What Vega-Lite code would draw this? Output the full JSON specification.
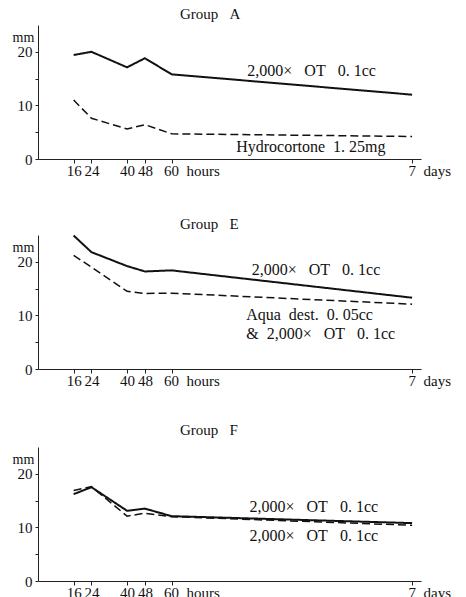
{
  "$schema": "https://vega.github.io/schema/vega-lite/v6.json",
  "background": "white",
  "padding": {"left": 12, "top": 7, "right": 0, "bottom": 0},
  "spacing": 38,
  "config": {
    "view": {"stroke": null},
    "font": "Liberation Serif",
    "axis": {"grid": false, "domainColor": "#222", "tickColor": "#222", "labelColor": "#111", "labelFont": "Liberation Serif", "labelFontSize": 15, "titleFont": "Liberation Serif", "titleFontWeight": "normal", "titleColor": "#111"},
    "title": {"font": "Liberation Serif", "fontSize": 15, "fontWeight": "normal", "anchor": "start", "frame": "group", "dx": 142, "color": "#111"}
  },
  "datasets": {
    "series": [
      {"panel": "A", "arm": "control", "hours": 16, "mm": 19.4},
      {"panel": "A", "arm": "control", "hours": 24, "mm": 20.0},
      {"panel": "A", "arm": "control", "hours": 40, "mm": 17.1},
      {"panel": "A", "arm": "control", "hours": 48, "mm": 18.8},
      {"panel": "A", "arm": "control", "hours": 60, "mm": 15.8},
      {"panel": "A", "arm": "control", "hours": 168, "mm": 12.0},
      {"panel": "A", "arm": "test", "hours": 16, "mm": 11.0},
      {"panel": "A", "arm": "test", "hours": 24, "mm": 7.6},
      {"panel": "A", "arm": "test", "hours": 40, "mm": 5.6},
      {"panel": "A", "arm": "test", "hours": 48, "mm": 6.4},
      {"panel": "A", "arm": "test", "hours": 60, "mm": 4.7},
      {"panel": "A", "arm": "test", "hours": 168, "mm": 4.2},
      {"panel": "E", "arm": "control", "hours": 16, "mm": 24.9},
      {"panel": "E", "arm": "control", "hours": 24, "mm": 21.8},
      {"panel": "E", "arm": "control", "hours": 40, "mm": 19.2},
      {"panel": "E", "arm": "control", "hours": 48, "mm": 18.2},
      {"panel": "E", "arm": "control", "hours": 60, "mm": 18.4},
      {"panel": "E", "arm": "control", "hours": 168, "mm": 13.3},
      {"panel": "E", "arm": "test", "hours": 16, "mm": 21.2},
      {"panel": "E", "arm": "test", "hours": 24, "mm": 19.0},
      {"panel": "E", "arm": "test", "hours": 40, "mm": 14.5},
      {"panel": "E", "arm": "test", "hours": 48, "mm": 14.1},
      {"panel": "E", "arm": "test", "hours": 60, "mm": 14.15},
      {"panel": "E", "arm": "test", "hours": 168, "mm": 12.1},
      {"panel": "F", "arm": "control", "hours": 16, "mm": 16.2},
      {"panel": "F", "arm": "control", "hours": 24, "mm": 17.5},
      {"panel": "F", "arm": "control", "hours": 40, "mm": 13.1},
      {"panel": "F", "arm": "control", "hours": 48, "mm": 13.5},
      {"panel": "F", "arm": "control", "hours": 60, "mm": 12.1},
      {"panel": "F", "arm": "control", "hours": 168, "mm": 10.8},
      {"panel": "F", "arm": "test", "hours": 16, "mm": 16.9},
      {"panel": "F", "arm": "test", "hours": 24, "mm": 17.6},
      {"panel": "F", "arm": "test", "hours": 40, "mm": 12.1},
      {"panel": "F", "arm": "test", "hours": 48, "mm": 12.65},
      {"panel": "F", "arm": "test", "hours": 60, "mm": 12.0},
      {"panel": "F", "arm": "test", "hours": 168, "mm": 10.4}
    ],
    "labels": [
      {"panel": "A", "hours": 94, "mm": 16.4, "text": "2,000×\u00a0\u00a0\u00a0OT\u00a0\u00a0\u00a00.\u00a01cc"},
      {"panel": "A", "hours": 89, "mm": 2.2, "text": "Hydrocortone\u00a0\u00a01.\u00a025mg"},
      {"panel": "E", "hours": 96, "mm": 18.5, "text": "2,000×\u00a0\u00a0\u00a0OT\u00a0\u00a0\u00a00.\u00a01cc"},
      {"panel": "E", "hours": 93.5, "mm": 10.0, "text": "Aqua\u00a0\u00a0dest.\u00a0\u00a00.\u00a005cc"},
      {"panel": "E", "hours": 93.5, "mm": 6.5, "text": "&\u00a0\u00a02,000×\u00a0\u00a0\u00a0OT\u00a0\u00a0\u00a00.\u00a01cc"},
      {"panel": "F", "hours": 95, "mm": 13.8, "text": "2,000×\u00a0\u00a0\u00a0OT\u00a0\u00a0\u00a00.\u00a01cc"},
      {"panel": "F", "hours": 95, "mm": 8.4, "text": "2,000×\u00a0\u00a0\u00a0OT\u00a0\u00a0\u00a00.\u00a01cc"}
    ]
  },
  "vconcat": [
    {
      "title": {"text": "Group\u00a0\u00a0\u00a0A", "offset": 3},
      "width": 383, "height": 134,
      "encoding": {
        "x": {"field": "hours", "type": "quantitative", "scale": {"domain": [0, 172], "nice": false}, "axis": {"title": null, "values": [16, 24, 40, 48, 60, 168], "labelExpr": "datum.value == 168 ? '7\u00a0\u00a0days' : datum.value == 60 ? '60\u00a0\u00a0hours' : datum.label", "labelAlign": {"condition": {"test": "datum.value >= 60", "value": "left"}, "value": "center"}, "labelOffset": {"condition": [{"test": "datum.value == 60", "value": -8}, {"test": "datum.value == 168", "value": -4}], "value": 0}, "labelOverlap": false, "labelFlush": false, "labelBound": false, "tickSize": 4, "labelPadding": 0}},
        "y": {"field": "mm", "type": "quantitative", "scale": {"domain": [0, 25], "nice": false}, "axis": {"title": "mm", "titleAngle": 0, "titleAlign": "left", "titleBaseline": "middle", "titleX": -26, "titleY": 12, "titleFontSize": 14, "values": [0, 5, 10, 15, 20], "labelExpr": "datum.value % 10 == 0 ? datum.label : ''", "tickSize": 3, "labelPadding": 3, "labelFontSize": 15}}
      },
      "layer": [
        {
          "data": {"name": "series"},
          "transform": [{"filter": "datum.panel == 'A'"}],
          "mark": {"type": "line", "color": "#111"},
          "encoding": {
            "strokeDash": {"field": "arm", "type": "nominal", "scale": {"domain": ["control", "test"], "range": [[1, 0], [8, 4]]}, "legend": null},
            "strokeWidth": {"field": "arm", "type": "nominal", "scale": {"domain": ["control", "test"], "range": [2, 1.5]}, "legend": null}
          }
        },
        {
          "data": {"name": "labels"},
          "transform": [{"filter": "datum.panel == 'A'"}],
          "mark": {"type": "text", "align": "left", "baseline": "middle", "fontSize": 16, "color": "#111", "font": "Liberation Serif"},
          "encoding": {"text": {"field": "text"}}
        }
      ]
    },
    {
      "spacing": 35,
      "vconcat": [
        {
          "title": {"text": "Group\u00a0\u00a0\u00a0E", "offset": 0},
          "width": 383, "height": 134,
          "encoding": {
            "x": {"field": "hours", "type": "quantitative", "scale": {"domain": [0, 172], "nice": false}, "axis": {"title": null, "values": [16, 24, 40, 48, 60, 168], "labelExpr": "datum.value == 168 ? '7\u00a0\u00a0days' : datum.value == 60 ? '60\u00a0\u00a0hours' : datum.label", "labelAlign": {"condition": {"test": "datum.value >= 60", "value": "left"}, "value": "center"}, "labelOffset": {"condition": [{"test": "datum.value == 60", "value": -8}, {"test": "datum.value == 168", "value": -4}], "value": 0}, "labelOverlap": false, "labelFlush": false, "labelBound": false, "tickSize": 4, "labelPadding": 0}},
            "y": {"field": "mm", "type": "quantitative", "scale": {"domain": [0, 25], "nice": false}, "axis": {"title": "mm", "titleAngle": 0, "titleAlign": "left", "titleBaseline": "middle", "titleX": -26, "titleY": 12, "titleFontSize": 14, "values": [0, 5, 10, 15, 20], "labelExpr": "datum.value % 10 == 0 ? datum.label : ''", "tickSize": 3, "labelPadding": 3, "labelFontSize": 15}}
          },
          "layer": [
            {
              "data": {"name": "series"},
              "transform": [{"filter": "datum.panel == 'E'"}],
              "mark": {"type": "line", "color": "#111"},
              "encoding": {
                "strokeDash": {"field": "arm", "type": "nominal", "scale": {"domain": ["control", "test"], "range": [[1, 0], [8, 4]]}, "legend": null},
                "strokeWidth": {"field": "arm", "type": "nominal", "scale": {"domain": ["control", "test"], "range": [2, 1.5]}, "legend": null}
              }
            },
            {
              "data": {"name": "labels"},
              "transform": [{"filter": "datum.panel == 'E'"}],
              "mark": {"type": "text", "align": "left", "baseline": "middle", "fontSize": 16, "color": "#111", "font": "Liberation Serif"},
              "encoding": {"text": {"field": "text"}}
            }
          ]
        },
        {
          "title": {"text": "Group\u00a0\u00a0\u00a0F", "offset": 9},
          "width": 383, "height": 134,
          "encoding": {
            "x": {"field": "hours", "type": "quantitative", "scale": {"domain": [0, 172], "nice": false}, "axis": {"title": null, "values": [16, 24, 40, 48, 60, 168], "labelExpr": "datum.value == 168 ? '7\u00a0\u00a0days' : datum.value == 60 ? '60\u00a0\u00a0hours' : datum.label", "labelAlign": {"condition": {"test": "datum.value >= 60", "value": "left"}, "value": "center"}, "labelOffset": {"condition": [{"test": "datum.value == 60", "value": -8}, {"test": "datum.value == 168", "value": -4}], "value": 0}, "labelOverlap": false, "labelFlush": false, "labelBound": false, "tickSize": 4, "labelPadding": 0}},
            "y": {"field": "mm", "type": "quantitative", "scale": {"domain": [0, 25], "nice": false}, "axis": {"title": "mm", "titleAngle": 0, "titleAlign": "left", "titleBaseline": "middle", "titleX": -26, "titleY": 12, "titleFontSize": 14, "values": [0, 5, 10, 15, 20], "labelExpr": "datum.value % 10 == 0 ? datum.label : ''", "tickSize": 3, "labelPadding": 3, "labelFontSize": 15}}
          },
          "layer": [
            {
              "data": {"name": "series"},
              "transform": [{"filter": "datum.panel == 'F'"}],
              "mark": {"type": "line", "color": "#111"},
              "encoding": {
                "strokeDash": {"field": "arm", "type": "nominal", "scale": {"domain": ["control", "test"], "range": [[1, 0], [8, 4]]}, "legend": null},
                "strokeWidth": {"field": "arm", "type": "nominal", "scale": {"domain": ["control", "test"], "range": [2, 1.5]}, "legend": null}
              }
            },
            {
              "data": {"name": "labels"},
              "transform": [{"filter": "datum.panel == 'F'"}],
              "mark": {"type": "text", "align": "left", "baseline": "middle", "fontSize": 16, "color": "#111", "font": "Liberation Serif"},
              "encoding": {"text": {"field": "text"}}
            }
          ]
        }
      ]
    }
  ]
}
